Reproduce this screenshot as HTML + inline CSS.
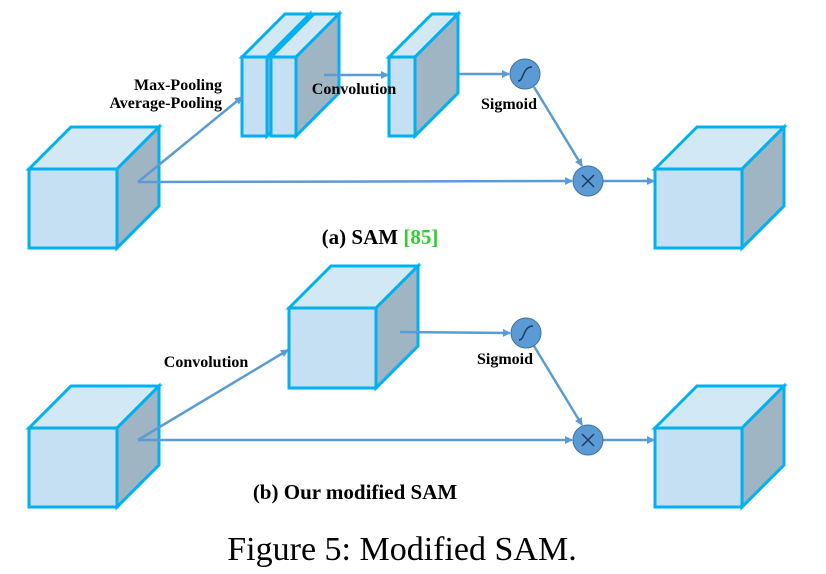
<!DOCTYPE html><html><head><meta charset="utf-8"><style>body{margin:0;background:#fff}svg{display:block}</style></head><body>
<svg width="826" height="574" viewBox="0 0 826 574" xmlns="http://www.w3.org/2000/svg">
<defs><marker id="a" markerWidth="8" markerHeight="8" refX="7" refY="4" orient="auto" markerUnits="userSpaceOnUse"><path d="M0,0 L8,4 L0,8 z" fill="#5b9bd5"/></marker></defs>
<g stroke="#00b0f0" stroke-width="3" stroke-linejoin="miter">
<polygon points="29,169 71,127 159,127 117,169" fill="#d3e8f5"/><polygon points="117,169 159,127 159,206 117,248" fill="#9fb5c4"/><rect x="29" y="169" width="88" height="79" fill="#c5e0f2"/>
<polygon points="655,169 697,127 784,127 742,169" fill="#d3e8f5"/><polygon points="742,169 784,127 784,206 742,248" fill="#9fb5c4"/><rect x="655" y="169" width="87" height="79" fill="#c5e0f2"/>
<polygon points="242,57 285,14 310,14 267,57" fill="#d3e8f5"/><polygon points="267,57 310,14 310,93 267,136" fill="#9fb5c4"/><rect x="242" y="57" width="25" height="79" fill="#c5e0f2"/>
<polygon points="271,57 314,14 339,14 296,57" fill="#d3e8f5"/><polygon points="296,57 339,14 339,93 296,136" fill="#9fb5c4"/><rect x="271" y="57" width="25" height="79" fill="#c5e0f2"/>
<polygon points="389,57 432,14 458,14 415,57" fill="#d3e8f5"/><polygon points="415,57 458,14 458,93 415,136" fill="#9fb5c4"/><rect x="389" y="57" width="26" height="79" fill="#c5e0f2"/>
<polygon points="29,428 71,386 159,386 117,428" fill="#d3e8f5"/><polygon points="117,428 159,386 159,465 117,507" fill="#9fb5c4"/><rect x="29" y="428" width="88" height="79" fill="#c5e0f2"/>
<polygon points="655,428 697,386 784,386 742,428" fill="#d3e8f5"/><polygon points="742,428 784,386 784,465 742,507" fill="#9fb5c4"/><rect x="655" y="428" width="87" height="79" fill="#c5e0f2"/>
<polygon points="289,308 331,266 418,266 376,308" fill="#d3e8f5"/><polygon points="376,308 418,266 418,346 376,388" fill="#9fb5c4"/><rect x="289" y="308" width="87" height="80" fill="#c5e0f2"/>
</g>
<g stroke="#5b9bd5" stroke-width="2.5" fill="none">
<line x1="138" y1="182" x2="242" y2="97" marker-end="url(#a)"/>
<line x1="138" y1="182" x2="572" y2="181" marker-end="url(#a)"/>
<line x1="324" y1="75" x2="388" y2="75" marker-end="url(#a)"/>
<line x1="459" y1="74" x2="509" y2="74" marker-end="url(#a)"/>
<line x1="534" y1="87" x2="582" y2="166" marker-end="url(#a)"/>
<line x1="603" y1="181" x2="654" y2="181" marker-end="url(#a)"/>
<line x1="138" y1="440" x2="288" y2="350" marker-end="url(#a)"/>
<line x1="400" y1="332" x2="510" y2="333" marker-end="url(#a)"/>
<line x1="534" y1="346" x2="582" y2="425" marker-end="url(#a)"/>
<line x1="138" y1="440" x2="572" y2="440" marker-end="url(#a)"/>
<line x1="603" y1="440" x2="654" y2="440" marker-end="url(#a)"/>
</g>
<g fill="#5b9bd5" stroke="#41719c" stroke-width="1">
<circle cx="525" cy="74" r="15"/><circle cx="526" cy="333" r="15"/><circle cx="588" cy="181" r="15"/><circle cx="588" cy="440" r="15"/>
</g>
<g stroke="#203864" stroke-width="1.5" fill="none">
<path d="M518,81 C524,81 522,67 532,67"/><path d="M519,340 C525,340 523,326 533,326"/>
<path d="M582,175 L594,187 M594,175 L582,187"/><path d="M582,434 L594,446 M594,434 L582,446"/>
</g>
<g font-family="Liberation Serif, serif" font-weight="bold" font-size="16" fill="#000" text-anchor="middle">
<text x="222" y="90" text-anchor="end">Max-Pooling</text><text x="222" y="108" text-anchor="end">Average-Pooling</text>
<text x="354" y="94">Convolution</text>
<text x="509" y="109">Sigmoid</text>
<text x="505" y="364">Sigmoid</text>
<text x="206" y="367">Convolution</text>
<text x="380" y="244" font-size="21">(a) SAM <tspan fill="#33cc33">[85]</tspan></text>
<text x="355" y="499" font-size="21">(b) Our modified SAM</text>
</g>
<text x="402" y="560" text-anchor="middle" font-family="Liberation Serif, serif" font-size="34">Figure 5: Modified SAM.</text>
</svg>
</body></html>
